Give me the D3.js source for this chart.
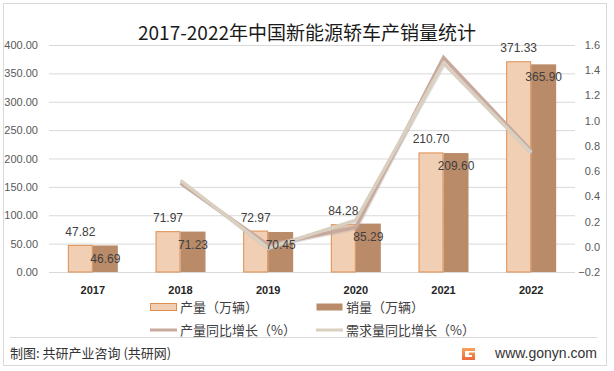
<!DOCTYPE html>
<html>
<head>
<meta charset="utf-8">
<title>新能源轿车产销量</title>
<style>
  body { margin: 0; background: #fff; }
  text { font-family: "Liberation Sans", Arial, sans-serif; }
  .cjk { font-family: "Noto Sans CJK SC", sans-serif; }
</style>
<script src="https://d3js.org/d3.v7.min.js"></script>
</head>
<body>
<div id="chart"></div>
<script>
// data
var years = ["2017", "2018", "2019", "2020", "2021", "2022"];
var production = [47.82, 71.97, 72.97, 84.28, 210.70, 371.33];
var sales = [46.69, 71.23, 70.45, 85.29, 209.60, 365.90];
// growth rates, first year has none
var prodGrowth = [null, 0.505, 0.014, 0.155, 1.50, 0.762];
var demandGrowth = [null, 0.526, -0.011, 0.211, 1.457, 0.746];
var leftTicks = [0, 50, 100, 150, 200, 250, 300, 350, 400];
var rightTicks = [-0.2, 0, 0.2, 0.4, 0.6, 0.8, 1.0, 1.2, 1.4, 1.6];

var W = 614, H = 371;
var plotL = 49, plotR = 575, plotT = 45, plotB = 272;

var svg = d3.select("#chart").append("svg")
  .attr("width", W)
  .attr("height", H);

// frame + footer line
svg.append("rect")
  .attr("x", 3.5).attr("y", 3.5)
  .attr("width", 603).attr("height", 362)
  .attr("fill", "none").attr("stroke", "#d9d9d9");
svg.append("line")
  .attr("x1", 10).attr("x2", 597)
  .attr("y1", 337.5).attr("y2", 337.5)
  .attr("stroke", "#d9d9d9");

// scales
var x = d3.scaleBand().domain(years).range([plotL, plotR]).padding(0);
var y = d3.scaleLinear().domain([0, 400]).range([plotB, plotT]);
var y2 = d3.scaleLinear().domain([-0.2, 1.6]).range([plotB, plotT]);

// title
svg.append("text")
  .attr("class", "cjk")
  .attr("x", 307).attr("y", 40)
  .attr("text-anchor", "middle")
  .attr("font-size", 19)
  .attr("fill", "#1a1a1a")
  .text("2017-2022年中国新能源轿车产销量统计");

// grid + left axis
var yAxis = d3.axisLeft(y)
  .tickValues(leftTicks)
  .tickSize(-(plotR - plotL))
  .tickPadding(11)
  .tickFormat(d3.format(".2f"));
var gy = svg.append("g")
  .attr("transform", "translate(" + plotL + ",0)")
  .call(yAxis);
gy.select(".domain").remove();
gy.selectAll("line").attr("stroke", "#d9d9d9");
gy.selectAll("text").attr("fill", "#595959").attr("font-size", 11)
  .attr("font-family", "Liberation Sans");

// right axis (labels only)
var y2Axis = d3.axisRight(y2)
  .tickValues(rightTicks)
  .tickSize(0)
  .tickFormat(d3.format(".1f"));
var gy2 = svg.append("g")
  .attr("transform", "translate(600,0)")
  .call(y2Axis);
gy2.select(".domain").remove();
gy2.selectAll("text").attr("fill", "#595959").attr("font-size", 11)
  .attr("text-anchor", "end").attr("x", 0)
  .attr("font-family", "Liberation Sans");

// x axis labels
var xAxis = d3.axisBottom(x).tickSize(0).tickPadding(14);
var gx = svg.append("g")
  .attr("transform", "translate(0," + plotB + ")")
  .call(xAxis);
gx.select(".domain").remove();
gx.selectAll("text").attr("fill", "#262626").attr("font-size", 11)
  .attr("font-weight", "bold").attr("font-family", "Liberation Sans");

var bw = 25;

// bars
svg.selectAll(".prod")
  .data(production)
  .enter().append("rect")
  .attr("class", "prod")
  .attr("x", function(d, i) { return x(years[i]) + x.bandwidth() / 2 - bw + 0.5; })
  .attr("y", function(d) { return y(d) + 0.5; })
  .attr("width", bw - 1)
  .attr("height", function(d) { return plotB - y(d) - 0.5; })
  .attr("fill", "#f0cfb4")
  .attr("stroke", "#df8e4e")
  .attr("stroke-width", 1);

svg.selectAll(".sale")
  .data(sales)
  .enter().append("rect")
  .attr("class", "sale")
  .attr("x", function(d, i) { return x(years[i]) + x.bandwidth() / 2; })
  .attr("y", function(d) { return y(d); })
  .attr("width", bw)
  .attr("height", function(d) { return plotB - y(d); })
  .attr("fill", "#b98b69");

// growth lines
function growthLine(vals) {
  var pts = [];
  vals.forEach(function(v, i) { if (v !== null) pts.push([x(years[i]) + x.bandwidth() / 2, y2(v)]); });
  return d3.line()(pts);
}
var lines = [
  { vals: prodGrowth, color: "#c8a99d" },
  { vals: demandGrowth, color: "#d9d0c1" }
];
lines.forEach(function(l) {
  svg.append("path")
    .attr("d", growthLine(l.vals))
    .attr("transform", "translate(1,1.5)")
    .attr("fill", "none")
    .attr("stroke", "#b0aaa5")
    .attr("stroke-opacity", 0.35)
    .attr("stroke-width", 3);
});
lines.forEach(function(l) {
  svg.append("path")
    .attr("d", growthLine(l.vals))
    .attr("fill", "none")
    .attr("stroke", l.color)
    .attr("stroke-width", 3.5)
    .attr("stroke-linejoin", "miter");
});

// data labels
svg.selectAll(".plab")
  .data(production)
  .enter().append("text")
  .attr("x", function(d, i) { return x(years[i]) + x.bandwidth() / 2 - bw / 2; })
  .attr("y", function(d) { return y(d) - 9; })
  .attr("text-anchor", "middle")
  .attr("font-size", 12)
  .attr("fill", "#404040")
  .text(function(d) { return d.toFixed(2); });

svg.selectAll(".slab")
  .data(sales)
  .enter().append("text")
  .attr("x", function(d, i) { return x(years[i]) + x.bandwidth() / 2 + bw / 2; })
  .attr("y", function(d) { return y(d) + 17; })
  .attr("text-anchor", "middle")
  .attr("font-size", 12)
  .attr("fill", "#404040")
  .text(function(d) { return d.toFixed(2); });

// legend
var legend = [
  { label: "产量（万辆）", type: "rect", fill: "#f0cfb4", stroke: "#df8e4e", x: 150, y: 307 },
  { label: "销量（万辆）", type: "rect", fill: "#b98b69", stroke: "none", x: 316, y: 307 },
  { label: "产量同比增长（%）", type: "line", color: "#c8a99d", x: 150, y: 330 },
  { label: "需求量同比增长（%）", type: "line", color: "#d9d0c1", x: 316, y: 330 }
];
legend.forEach(function(d) {
  if (d.type === "rect") {
    svg.append("rect")
      .attr("x", d.x + 0.5).attr("y", d.y - 3.5)
      .attr("width", 26).attr("height", 7)
      .attr("fill", d.fill).attr("stroke", d.stroke);
  } else {
    svg.append("line")
      .attr("x1", d.x).attr("x2", d.x + 27)
      .attr("y1", d.y).attr("y2", d.y)
      .attr("stroke", d.color).attr("stroke-width", 3);
  }
  svg.append("text")
    .attr("class", "cjk")
    .attr("x", d.x + 30).attr("y", d.y + 4.5)
    .attr("font-size", 13)
    .attr("fill", "#404040")
    .text(d.label);
});

// footer
svg.append("text")
  .attr("class", "cjk")
  .attr("x", 10).attr("y", 358)
  .attr("font-size", 13)
  .attr("fill", "#333")
  .text("制图: 共研产业咨询 (共研网)");

var grad = svg.append("defs").append("linearGradient")
  .attr("id", "logo").attr("x1", 0).attr("y1", 0).attr("x2", 0).attr("y2", 1);
grad.append("stop").attr("offset", 0).attr("stop-color", "#f7a35c");
grad.append("stop").attr("offset", 1).attr("stop-color", "#ee6a3a");
svg.append("path")
  .attr("d", "M462,348 h13 v3 h-10 v6 h7 v-2 h-3 v-2.5 h6 v7.5 h-13 z")
  .attr("fill", "url(#logo)");

svg.append("text")
  .attr("x", 597).attr("y", 358)
  .attr("text-anchor", "end")
  .attr("font-size", 14)
  .attr("font-family", "Open Sans")
  .attr("fill", "#333")
  .text("www.gonyn.com");
</script>
</body>
</html>
